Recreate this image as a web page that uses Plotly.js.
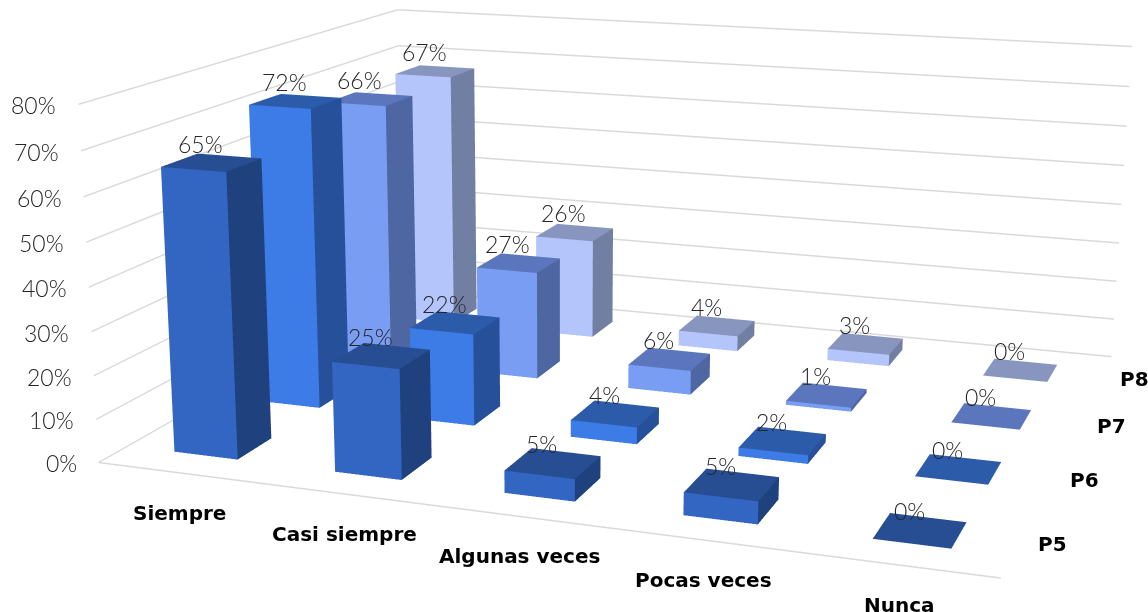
<!DOCTYPE html>
<html><head><meta charset="utf-8">
<script src="https://cdn.plot.ly/plotly-3.0.1.min.js"></script>
<style>html,body{margin:0;padding:0;width:1148px;height:612px;overflow:hidden;background:#fff}
#wrap{position:absolute;left:0;top:0;width:1148px;height:612px;overflow:hidden}
#chart{position:absolute;left:-31px;top:-618px;width:1199px;height:1893px}</style>
</head><body><div id="wrap"><div id="chart"></div></div>
<script>
const categories=["Siempre","Casi siempre","Algunas veces","Pocas veces","Nunca"];
const seriesNames=["P5","P6","P7","P8"];
const P5=[65,25,5,5,0];
const P6=[72,22,4,2,0];
const P7=[66,27,6,1,0];
const P8=[67,26,4,3,0];
const zTicks=[0,10,20,30,40,50,60,70,80];
const allSeries=[P5,P6,P7,P8];
const frontColors=["#3366C2","#3D7BE6","#789DF3","#B4C5FC"];
const sideColors=["#1F427F","#27509A","#4E67A3","#717FA3"];
const topColors=["#274E93","#2C5BA9","#5B76BC","#8896BF"];
const hx=0.2,hy=0.197;
const lightFont={family:'Lato Light, Lato',size:23,color:'#262626'};
const boldFont={family:'DejaVu Sans',size:20,color:'#000',weight:700};
const traces=[],notes=[];
const note=(x,y,z,text,font,xshift,yshift,xanchor)=>notes.push({x,y,z,text,font,xshift,yshift,xanchor:xanchor||'center',yanchor:'middle',showarrow:false});
allSeries.forEach((vals,s)=>{
  const x=[],y=[],z=[],i=[],j=[],k=[],fc=[];
  vals.forEach((v,c)=>{
    const x0=c-hx,x1=c+hx,y0=s-hy,y1=s+hy;
    const quad=(pts,col)=>{const b=x.length;pts.forEach(q=>{x.push(q[0]);y.push(q[1]);z.push(q[2]);});
      i.push(b,b);j.push(b+1,b+2);k.push(b+2,b+3);fc.push(col,col);};
    if(v>0){
      quad([[x0,y0,0],[x1,y0,0],[x1,y0,v],[x0,y0,v]],frontColors[s]);
      quad([[x1,y0,0],[x1,y1,0],[x1,y1,v],[x1,y0,v]],sideColors[s]);
    }
    quad([[x0,y0,v],[x1,y0,v],[x1,y1,v],[x0,y1,v]],topColors[s]);
    note(c,s,v,v+'%',lightFont,-11,19);
  });
  traces.push({type:'mesh3d',name:seriesNames[s],x,y,z,i,j,k,facecolor:fc,flatshading:true,hoverinfo:'skip',
    lighting:{ambient:1,diffuse:0,specular:0,fresnel:0,roughness:1}});
});
categories.forEach((t,c)=>note(c,-.5,0,t,boldFont,1,-40));
seriesNames.forEach((t,s)=>note(4.5,s,0,t,boldFont,34,-1));
zTicks.forEach(v=>note(-.5,-.5,v,v+'%',lightFont,-20,-1,'right'));
const baseAxis={showbackground:false,showspikes:false,zeroline:false,showgrid:false,ticks:'',showticklabels:false,title:{text:''}};
const layout={width:1199,height:1893,margin:{l:0,r:0,t:0,b:0},paper_bgcolor:'#fff',showlegend:false,
 scene:{domain:{x:[0,1],y:[0,1]},aspectmode:'manual',aspectratio:{x:1,y:0.8235,z:0.4016},annotations:notes,
  camera:{eye:{x:.8189,y:-2.4916,z:.6150},center:{x:.1544,y:-.6811,z:.0853},up:{x:-.0920,y:.2483,z:.9643},projection:{type:'perspective'}},
  xaxis:Object.assign({},baseAxis,{range:[-.5,4.5],showline:true,linecolor:'#D9D9D9',linewidth:3}),
  yaxis:Object.assign({},baseAxis,{range:[-.5,3.5],showline:false}),
  zaxis:Object.assign({},baseAxis,{range:[0,80],tickvals:zTicks,showgrid:true,gridcolor:'#D9D9D9',gridwidth:3,showline:false})
 }};
Plotly.newPlot('chart',traces,layout,{displayModeBar:false});
</script></body></html>
